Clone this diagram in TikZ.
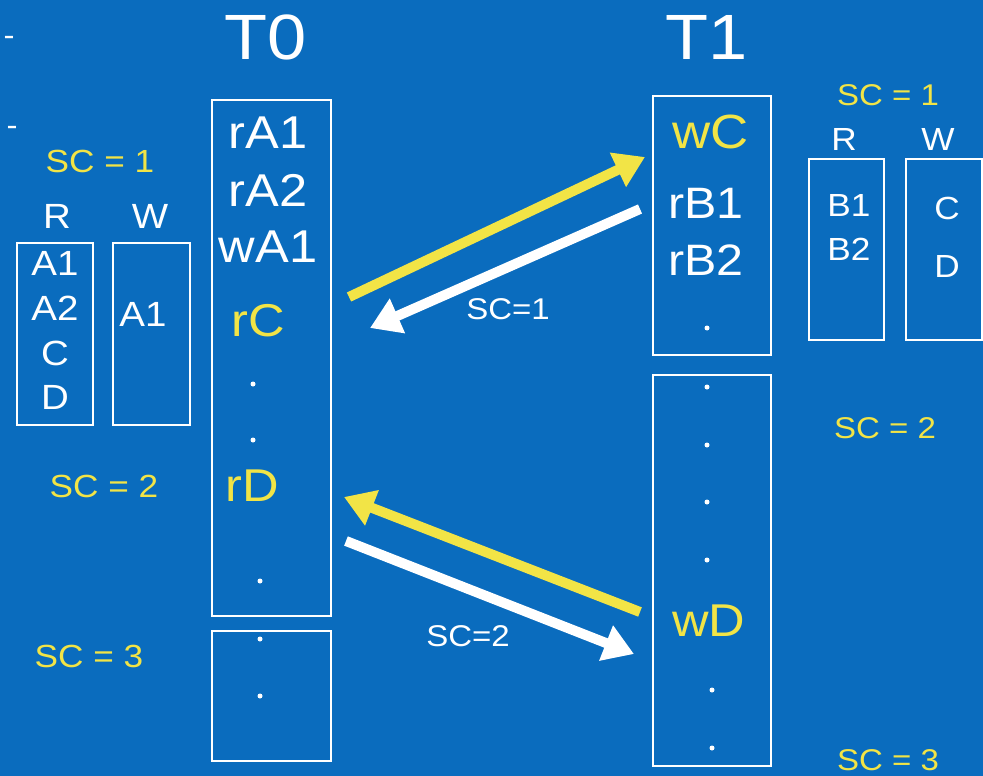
\documentclass[tikz,border=0pt]{standalone}
\usepackage{fontspec}
\setmainfont{Liberation Sans}[FakeStretch=1.1]
\usetikzlibrary{arrows.meta}
\definecolor{bgblue}{RGB}{10,108,190}
\definecolor{scyellow}{RGB}{242,228,70}
\begin{document}
\begin{tikzpicture}[x=1pt,y=-1pt,
  txt/.style={inner sep=0pt,text=white},
  ytxt/.style={inner sep=0pt,text=scyellow},
  frame/.style={draw=white,line width=2.5pt},
  dotmark/.style={circle,fill=white,inner sep=0pt,minimum size=5pt},
  bigarrow/.style={line width=10pt,-{Triangle[length=30pt,width=36pt]}},
]
\fill[bgblue] (0,0) rectangle (983,776);
\useasboundingbox (0,0) rectangle (983,776);

% dashes
\node[txt,font=\fontsize{30}{30}\selectfont] (d1) at (9,41) {-};
\node[txt,font=\fontsize{30}{30}\selectfont] (d2) at (12,131) {-};

% titles
\node[txt,font=\fontsize{64}{64}\selectfont] (T0) at (266,37) {T0};
\node[txt,font=\fontsize{64}{64}\selectfont] (T1) at (707,37) {T1};

% T0 column boxes
\draw[frame] (212,100) rectangle (331,616);
\draw[frame] (212,631) rectangle (331,761);
\node[txt,font=\fontsize{46}{46}\selectfont] (rA1) at (268,133) {rA1};
\node[txt,font=\fontsize{46}{46}\selectfont] (rA2) at (268,190) {rA2};
\node[txt,font=\fontsize{46}{46}\selectfont] (wA1) at (268,247) {wA1};
\node[ytxt,font=\fontsize{46}{46}\selectfont] (rC) at (258,321) {rC};
\node[dotmark] (t0d1) at (253,384) {};
\node[dotmark] (t0d2) at (253,440) {};
\node[ytxt,font=\fontsize{46}{46}\selectfont] (rD) at (252,486) {rD};
\node[dotmark] (t0d3) at (260,581) {};
\node[dotmark] (t0d4) at (260,639) {};
\node[dotmark] (t0d5) at (260,696) {};

% left side sets
\node[ytxt,font=\fontsize{32}{32}\selectfont] (scL1) at (100,161) {SC = 1};
\node[txt,font=\fontsize{35}{35}\selectfont] (RL) at (57,216) {R};
\node[txt,font=\fontsize{35}{35}\selectfont] (WL) at (150,216) {W};
\draw[frame] (17,243) rectangle (93,425);
\draw[frame] (113,243) rectangle (190,425);
\node[txt,font=\fontsize{35}{35}\selectfont] (A1) at (55,263) {A1};
\node[txt,font=\fontsize{35}{35}\selectfont] (A2) at (55,308) {A2};
\node[txt,font=\fontsize{35}{35}\selectfont] (Cl) at (55,353) {C};
\node[txt,font=\fontsize{35}{35}\selectfont] (Dl) at (55,397) {D};
\node[txt,font=\fontsize{35}{35}\selectfont] (A1w) at (143,314) {A1};
\node[ytxt,font=\fontsize{32}{32}\selectfont] (scL2) at (104,486) {SC = 2};
\node[ytxt,font=\fontsize{32}{32}\selectfont] (scL3) at (89,656) {SC = 3};

% T1 column boxes
\draw[frame] (653,96) rectangle (771,355);
\draw[frame] (653,375) rectangle (771,766);
\node[ytxt,font=\fontsize{48}{48}\selectfont] (wC) at (711,132) {wC};
\node[txt,font=\fontsize{44}{44}\selectfont] (rB1) at (706,203) {rB1};
\node[txt,font=\fontsize{44}{44}\selectfont] (rB2) at (706,260) {rB2};
\node[dotmark] (t1d1) at (707,328) {};
\node[dotmark] (t1d2) at (707,387) {};
\node[dotmark] (t1d3) at (707,445) {};
\node[dotmark] (t1d4) at (707,502) {};
\node[dotmark] (t1d5) at (707,560) {};
\node[ytxt,font=\fontsize{46}{46}\selectfont] (wD) at (709,621) {wD};
\node[dotmark] (t1d6) at (712,690) {};
\node[dotmark] (t1d7) at (712,748) {};

% right side sets
\node[ytxt,font=\fontsize{30}{30}\selectfont] (scR1) at (888,95) {SC = 1};
\node[txt,font=\fontsize{32}{32}\selectfont] (RR) at (844,139) {R};
\node[txt,font=\fontsize{32}{32}\selectfont] (WR) at (938,139) {W};
\draw[frame] (809,159) rectangle (884,340);
\draw[frame] (906,159) rectangle (982,340);
\node[txt,font=\fontsize{32}{32}\selectfont] (B1) at (849,205) {B1};
\node[txt,font=\fontsize{32}{32}\selectfont] (B2) at (849,249) {B2};
\node[txt,font=\fontsize{32}{32}\selectfont] (Cr) at (947,208) {C};
\node[txt,font=\fontsize{32}{32}\selectfont] (Dr) at (947,266) {D};
\node[ytxt,font=\fontsize{30}{30}\selectfont] (scR2) at (885,428) {SC = 2};
\node[ytxt,font=\fontsize{30}{30}\selectfont] (scR3) at (888,760) {SC = 3};

% arrows
\coordinate (y1s) at (349,297);
\coordinate (y1e) at (645,157);
\coordinate (w1s) at (640,209);
\coordinate (w1e) at (370,328);
\coordinate (y2s) at (640,612);
\coordinate (y2e) at (344,497);
\coordinate (w2s) at (346,541);
\coordinate (w2e) at (634,654);
\draw[bigarrow,draw=scyellow,fill=scyellow] (y1s) -- (y1e);
\draw[bigarrow,draw=white,fill=white] (w1s) -- (w1e);
\draw[bigarrow,draw=scyellow,fill=scyellow] (y2s) -- (y2e);
\draw[bigarrow,draw=white,fill=white] (w2s) -- (w2e);
\node[txt,font=\fontsize{30}{30}\selectfont] (sc1) at (508,309) {SC{=}1};
\node[txt,font=\fontsize{30}{30}\selectfont] (sc2) at (468,636) {SC{=}2};
\end{tikzpicture}
\end{document}
